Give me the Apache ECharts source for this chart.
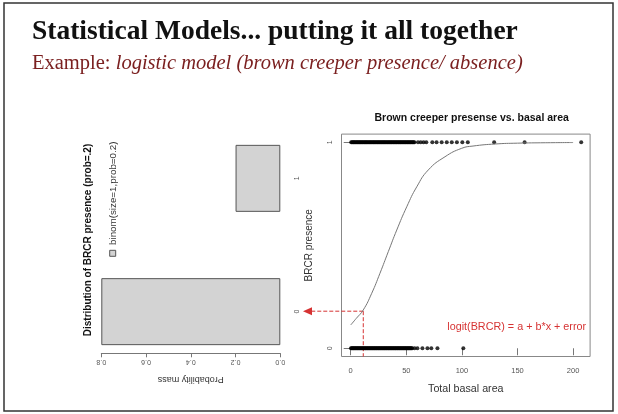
<!DOCTYPE html>
<html>
<head>
<meta charset="utf-8">
<script src="https://cdn.jsdelivr.net/npm/echarts@6.0.0/dist/echarts.min.js"></script>
<style>
  html, body { margin: 0; padding: 0; background: #fff; }
  #chart { width: 618px; height: 414px; }
</style>
</head>
<body>
<div id="chart"></div>
<script>
// left panel: binomial pmf
var pmfCategories = ['0', '1']
var pmfValues = [0.8, 0.2]

// right panel: presence (1) / absence (0) against basal area
var presentX = [0.4, 1.1, 1.9, 2.6, 3.2, 4.0, 4.7, 5.5, 6.1, 6.9, 7.6, 8.3, 9.0, 9.8, 10.5, 11.2,
  12.0, 12.7, 13.5, 14.1, 14.9, 15.6, 16.4, 17.1, 17.8, 18.6, 19.3, 20.1, 20.8, 21.5, 22.3, 23.0,
  23.8, 24.5, 25.2, 26.0, 26.7, 27.5, 28.2, 29.0, 29.7, 30.4, 31.2, 31.9, 32.7, 33.4, 34.2, 34.9,
  35.7, 36.4, 37.1, 37.9, 38.6, 39.4, 40.1, 40.9, 41.6, 42.4, 43.1, 43.9, 44.6, 45.3, 46.1, 46.8,
  47.6, 48.3, 49.1, 49.8, 50.6, 51.3, 52.1, 52.8, 53.6, 54.3, 55.1, 55.8, 56.6, 57.3,
  60.5, 63.0, 65.5, 68.0, 73.4, 77.2, 81.8, 86.4, 90.9, 95.5, 100.4, 105.3, 129.0, 156.4, 207.3]
var absentX = [0.2, 0.8, 1.5, 2.1, 2.7, 3.4, 4.0, 4.6, 5.3, 5.9, 6.5, 7.2, 7.8, 8.4, 9.1, 9.7,
  10.3, 11.0, 11.6, 12.2, 12.9, 13.5, 14.1, 14.8, 15.4, 16.0, 16.7, 17.3, 17.9, 18.6, 19.2, 19.8,
  20.5, 21.1, 21.7, 22.4, 23.0, 23.6, 24.3, 24.9, 25.5, 26.2, 26.8, 27.4, 28.1, 28.7, 29.3, 30.0,
  30.6, 31.2, 31.9, 32.5, 33.1, 33.8, 34.4, 35.0, 35.7, 36.3, 36.9, 37.6, 38.2, 38.8, 39.5, 40.1,
  40.7, 41.4, 42.0, 42.6, 43.3, 43.9, 44.5, 45.2, 45.8, 46.4, 47.1, 47.7, 48.3, 49.0, 49.6, 50.2,
  50.9, 51.5, 52.1, 52.8, 53.4, 54.0, 54.7, 55.3,
  57.5, 60.0, 64.5, 69.0, 72.5, 78.0, 101.3]

// fitted logistic curve
var curveX = [0, 5, 11.3, 18.9, 26.3, 33.8, 41.4, 50.4, 59.4, 69.8, 84.8, 99.8, 110, 130, 150, 175, 200]
var curveY = [0.113, 0.145, 0.186, 0.267, 0.364, 0.469, 0.574, 0.687, 0.784, 0.866, 0.93, 0.971, 0.982, 0.992, 0.996, 0.998, 0.999]

var basalTicks = [0, 50, 100, 150, 200]
var presenceTicks = [0, 1]
var basalRange = [-8.28, 215.3]
var presenceRange = [-0.04, 1.04]

// red dashed guide: basal area ~11 -> p ~0.18, arrow runs across to the left panel
var guidePoint = [11.3, 0.18]
var guideArrowEndX = -42.9

var chart = echarts.init(document.getElementById('chart'))

var sans = 'Liberation Sans'
var serif = 'Liberation Serif'
var grey = '#555'
var red = '#d63333'

chart.setOption({
  animation: false,
  backgroundColor: '#fff',
  grid: [
    { left: 101.3, right: 337.7, top: 111.7, bottom: 35.7 },
    { left: 341.5, right: 27.9, top: 134.1, bottom: 57.5, show: true, borderColor: '#888', borderWidth: 1 }
  ],
  title: {
    text: 'Brown creeper presense vs. basal area',
    left: 466.7,
    top: 108,
    textAlign: 'center',
    textStyle: { fontFamily: sans, fontSize: 10.5, fontWeight: 'bold', color: '#111' }
  },
  xAxis: [{
    gridIndex: 0,
    type: 'value',
    min: 0,
    max: 0.8,
    interval: 0.2,
    inverse: true,
    offset: -25,
    axisLine: { show: true, lineStyle: { color: '#777' } },
    axisTick: { show: true, length: 4, lineStyle: { color: '#777' } },
    axisLabel: { rotate: 180, fontSize: 7, color: grey, fontFamily: sans, margin: 5,
      formatter: function (v) { return v.toFixed(1) } },
    splitLine: { show: false },
    name: 'Probability mass',
    nameLocation: 'middle',
    nameRotate: 180,
    nameGap: 22,
    nameTextStyle: { fontFamily: sans, fontSize: 9, color: '#333' }
  }, {
    gridIndex: 1,
    type: 'value',
    min: basalRange[0],
    max: basalRange[1],
    axisLine: { show: false },
    axisTick: { show: true, length: 7, customValues: basalTicks, lineStyle: { color: '#777' } },
    axisLabel: { customValues: basalTicks, fontSize: 7.5, color: grey, fontFamily: sans, margin: 10 },
    splitLine: { show: false },
    name: 'Total basal area',
    nameLocation: 'middle',
    nameGap: 27,
    nameTextStyle: { fontFamily: sans, fontSize: 10.7, color: '#333' }
  }],
  yAxis: [{
    gridIndex: 0,
    type: 'category',
    position: 'right',
    data: pmfCategories,
    axisLine: { show: false },
    axisTick: { show: false },
    axisLabel: { rotate: 90, fontSize: 7, color: grey, fontFamily: sans, margin: 13 }
  }, {
    gridIndex: 1,
    type: 'value',
    min: presenceRange[0],
    max: presenceRange[1],
    axisLine: { show: false },
    axisTick: { show: true, length: 7, customValues: presenceTicks, lineStyle: { color: '#777' } },
    axisLabel: { customValues: presenceTicks, rotate: 90, fontSize: 7, color: grey, fontFamily: sans, margin: 8 },
    splitLine: { show: false },
    name: 'BRCR presence',
    nameLocation: 'middle',
    nameGap: 27,
    nameTextStyle: { fontFamily: sans, fontSize: 10, color: '#333' }
  }],
  series: [{
    type: 'bar',
    xAxisIndex: 0,
    yAxisIndex: 0,
    data: pmfValues,
    barWidth: 67,
    itemStyle: { color: '#d3d3d3', borderColor: '#555', borderWidth: 1 }
  }, {
    type: 'scatter',
    xAxisIndex: 1,
    yAxisIndex: 1,
    symbolSize: 4,
    itemStyle: { color: '#000' },
    data: presentX.map(function (x) { return [x, 1] })
  }, {
    type: 'scatter',
    xAxisIndex: 1,
    yAxisIndex: 1,
    symbolSize: 4,
    itemStyle: { color: '#000' },
    data: absentX.map(function (x) { return [x, 0] })
  }, {
    type: 'line',
    xAxisIndex: 1,
    yAxisIndex: 1,
    smooth: true,
    showSymbol: false,
    lineStyle: { color: '#777', width: 1 },
    data: curveX.map(function (x, i) { return [x, curveY[i]] })
  }],
  graphic: [
    { id: 'frame', type: 'rect', shape: { x: 4, y: 3, width: 609, height: 408 },
      style: { fill: 'none', stroke: '#333', lineWidth: 1.5 }, silent: true },
    { id: 'slideTitle', type: 'text', x: 32, y: 32,
      style: { text: 'Statistical Models... putting it all together', fontFamily: serif,
        fontSize: 27.5, fontWeight: 'bold', fill: '#111', textVerticalAlign: 'middle' } },
    { id: 'slideSub', type: 'text', x: 32, y: 64,
      style: { text: '{a|Example: }{b|logistic model (brown creeper presence/ absence)}',
        textVerticalAlign: 'middle',
        rich: {
          a: { fontFamily: serif, fontSize: 20.5, fill: '#7b2020' },
          b: { fontFamily: serif, fontSize: 20.5, fontStyle: 'italic', fill: '#7b2020' }
        } } },
    { id: 'pmfTitle', type: 'text', x: 88.3, y: 240, rotation: Math.PI / 2,
      style: { text: 'Distribution of BRCR presence (prob=.2)', fontFamily: sans, fontSize: 10,
        fontWeight: 'bold', fill: '#111', textAlign: 'center', textVerticalAlign: 'middle' } },
    { id: 'legendBox', type: 'rect', shape: { x: 109.7, y: 250.3, width: 6, height: 6 },
      style: { fill: '#d3d3d3', stroke: '#555', lineWidth: 1 } },
    { id: 'legendText', type: 'text', x: 113.5, y: 245, rotation: Math.PI / 2,
      style: { text: 'binom(size=1,prob=0.2)', fontFamily: sans, fontSize: 9.8,
        fill: '#333', textAlign: 'left', textVerticalAlign: 'middle' } },
    { id: 'modelText', type: 'text', x: 516.7, y: 327,
      style: { text: 'logit(BRCR) = a + b*x + error', fontFamily: sans, fontSize: 10.8,
        fill: red, textAlign: 'center', textVerticalAlign: 'middle' } }
  ]
})

// guide lines placed through the right panel's own scales
var toPx = function (p) { return chart.convertToPixel({ xAxisIndex: 1, yAxisIndex: 1 }, p) }
var g = toPx(guidePoint)
var gEnd = toPx([guideArrowEndX, guidePoint[1]])
var gBottom = toPx([guidePoint[0], presenceRange[0]])
var dash = { stroke: red, lineWidth: 1, lineDash: [4, 2] }
chart.setOption({
  graphic: [
    { id: 'guideH', type: 'line', shape: { x1: g[0], y1: g[1], x2: gEnd[0] + 6, y2: gEnd[1] }, style: dash, silent: true },
    { id: 'guideV', type: 'line', shape: { x1: g[0], y1: g[1], x2: gBottom[0], y2: gBottom[1] }, style: dash, silent: true },
    { id: 'guideArrow', type: 'polygon',
      shape: { points: [[gEnd[0], gEnd[1]], [gEnd[0] + 9, gEnd[1] - 4], [gEnd[0] + 9, gEnd[1] + 4]] },
      style: { fill: red }, silent: true }
  ]
})
</script>
</body>
</html>
